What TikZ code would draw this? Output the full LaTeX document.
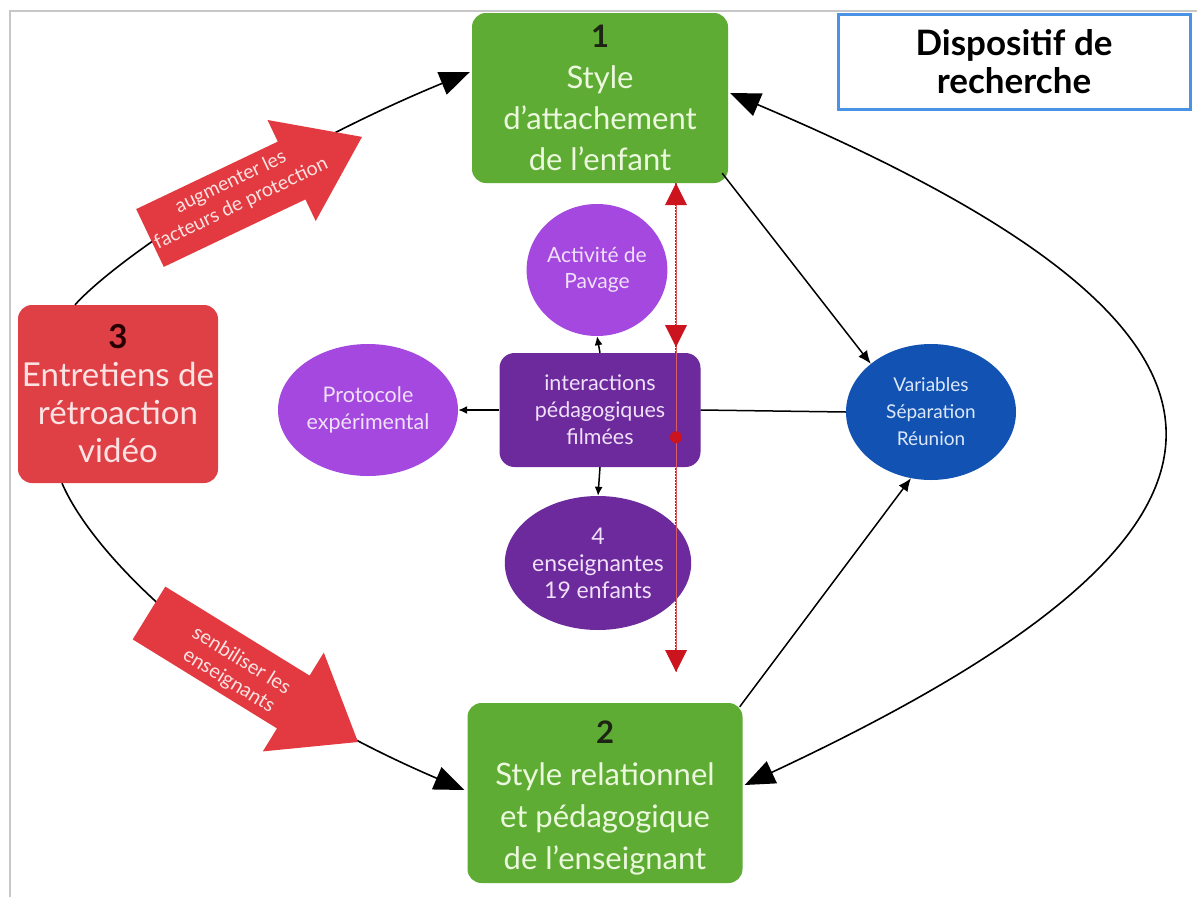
\documentclass[tikz,border=0pt]{standalone}
\usepackage{fontspec}
\setmainfont{Lato}
\usetikzlibrary{shapes.geometric,arrows.meta,calc}
\definecolor{gfill}{RGB}{94,172,52}
\definecolor{gtext}{RGB}{236,248,222}
\definecolor{rfill}{RGB}{222,64,70}
\definecolor{rtext}{RGB}{252,226,226}
\definecolor{arrowred}{RGB}{226,58,64}
\definecolor{lpurple}{RGB}{164,72,224}
\definecolor{dpurple}{RGB}{108,42,156}
\definecolor{ptext}{RGB}{240,224,250}
\definecolor{bfill}{RGB}{18,82,178}
\definecolor{btext}{RGB}{220,232,250}
\definecolor{frameblue}{RGB}{74,146,228}
\definecolor{redline}{RGB}{204,20,30}
\definecolor{numdark}{RGB}{28,36,20}
\begin{document}
\begin{tikzpicture}[x=1pt,y=-1pt,
  gbox/.style={rectangle, rounded corners=14pt, fill=gfill, text=gtext, align=center, inner sep=0pt},
  rbox/.style={rectangle, rounded corners=14pt, fill=rfill, text=rtext, align=center, inner sep=0pt},
  ell/.style={ellipse, align=center, inner sep=0pt},
  conn/.style={line width=1.6pt, black},
  bigtip/.style={-{Triangle[length=30pt,width=24pt]}},
  small/.style={line width=1.5pt, -{Latex[length=9pt,width=8pt]}},
  redtri/.style={fill=redline}
]
\fill[white] (0,0) rectangle (1197,897);
\useasboundingbox (0,0) rectangle (1197,897);
\draw[black!22, line width=2pt] (10,897) -- (10,11) -- (1197,11);

% main boxes
\node[gbox, minimum width=256pt, minimum height=170pt, font=\fontsize{31}{41}\selectfont] (b1) at (600,98)
  {\textcolor{numdark}{\bfseries 1}\\Style\\d’attachement\\de l’enfant};
\node[gbox, minimum width=275pt, minimum height=180pt] (b2) at (605,793) {};
\node[text=gtext, align=center, font=\fontsize{31}{42}\selectfont] (b2t) at ($(b2.center)+(0,5)$)
  {\textcolor{numdark}{\bfseries 2}\\Style relationnel\\et pédagogique\\de l’enseignant};
\node[rbox, minimum width=200pt, minimum height=178pt, font=\fontsize{33}{38}\selectfont] (b3) at (118,394)
  {\textcolor{black!85!red}{\bfseries 3}\\Entretiens de\\rétroaction\\vidéo};
\node[draw=frameblue, line width=3pt, fill=white, minimum width=352pt, minimum height=95pt, align=center,
  font=\fontsize{35}{38}\selectfont\bfseries] (disp) at (1014,62) {Dispositif de\\recherche};

% centre
\node[ell, fill=lpurple, text=ptext, minimum width=140pt, minimum height=132pt, font=\fontsize{21}{26}\selectfont] (act) at (597,270) {Activité de\\Pavage};
\node[ell, fill=lpurple, text=ptext, minimum width=180pt, minimum height=132pt, font=\fontsize{21.5}{27}\selectfont] (proto) at (368,410) {Protocole\\expérimental};
\node[rectangle, rounded corners=15pt, fill=dpurple, text=ptext, minimum width=201pt, minimum height=114pt, align=center,
  font=\fontsize{21.5}{27}\selectfont] (inter) at (600,410) {interactions\\pédagogiques\\filmées};
\node[ell, fill=dpurple, text=ptext, minimum width=170pt, minimum height=134pt, font=\fontsize{23}{27}\selectfont] (ens) at (598,563) {4\\enseignantes\\19 enfants};
\node[ell, fill=bfill, text=btext, minimum width=170pt, minimum height=136pt, font=\fontsize{19}{27}\selectfont] (var) at (931,412) {Variables\\Séparation\\Réunion};

% connectors
\draw[conn, bigtip] ($(b3.north)+(-43,0)$) .. controls (120,255) and (280,150) .. ($(b1.west)+(-2,-26)$);
\draw[conn, bigtip] ($(b3.south)+(-56,0)$) .. controls (95,560) and (230,690) .. ($(b2.west)+(-3,-3)$);
\draw[conn, {Triangle[length=30pt,width=24pt]}-{Triangle[length=30pt,width=24pt]}]
  ($(b1.east)+(2,-5)$) .. controls (1299,334) and (1301,525) .. ($(b2.east)+(2,-8)$);
\draw[conn, line width=1.5pt, -{Latex[length=13pt,width=11pt]}] ($(b1.south east)+(-6,-10)$) -- (var.north west);
\draw[conn, line width=1.5pt, -{Latex[length=13pt,width=11pt]}] ($(b2.north east)+(-3,4)$) -- ($(var.south)+(-20,-2)$);
\draw[conn, line width=1.5pt] (inter.east) -- (var.west);
\draw[small] (inter.north) -- (act.south);
\draw[small] (inter.west) -- (proto.east);
\draw[small] (inter.south) -- (ens.north);

% red double arrow
\coordinate (rtop) at ($(b1.south)+(76,0)$);
\coordinate (rbot) at (676,672);
\draw[redline, line width=2pt, densely dotted] (rtop) -- (rbot);
\draw[redline!70, line width=0.8pt] (rtop) -- (rbot);
\fill[redtri] (rtop) -- ++(-11,22) -- ++(22,0) -- cycle;
\fill[redtri] ($(rtop)+(0,164)$) -- ++(-11,-22) -- ++(22,0) -- cycle;
\fill[redtri] ($(rtop)+(0,254)$) circle (6pt);
\fill[redtri] (rbot) -- ++(-11,-22) -- ++(22,0) -- cycle;

% red arrows
\fill[arrowred] (163.8,266.9) -- (136.2,209.1) -- (277.8,141.6) -- (267.5,120.0) -- (362.0,136.9)
  -- (315.7,221.0) -- (305.4,199.4) -- cycle;
\node[rotate=25.5, text=rtext, align=center, font=\fontsize{19.5}{24}\selectfont] (t1) at (236,193)
  {augmenter les\\facteurs de protection};
\fill[arrowred] (132.7,639.4) -- (165.3,586.6) -- (309.6,675.6) -- (323.8,652.6) -- (358,742)
  -- (262.8,751.4) -- (277.0,728.4) -- cycle;
\node[rotate=-31.7, text=rtext, align=center, font=\fontsize{20}{24}\selectfont] (t2) at (235,671)
  {senbiliser les\\enseignants};
\end{tikzpicture}
\end{document}
